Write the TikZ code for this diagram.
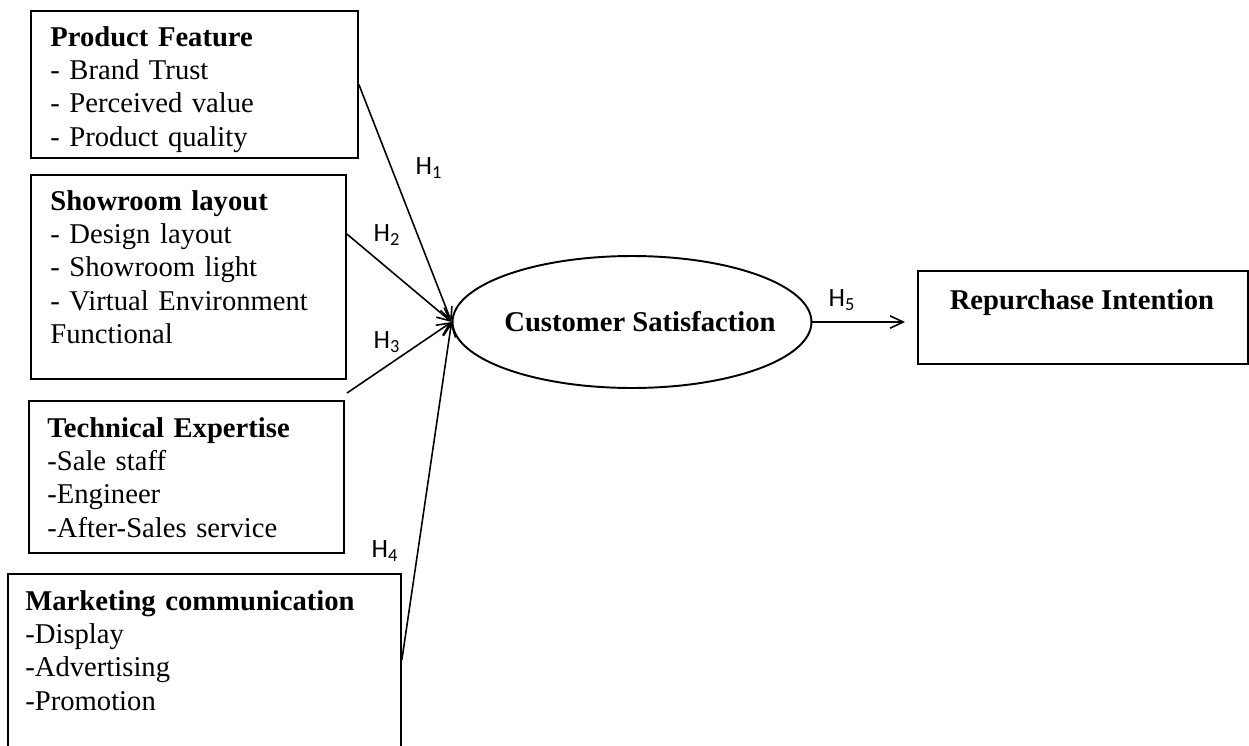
\documentclass[tikz,border=0pt]{standalone}
\usepackage{fontspec}
\setmainfont{Liberation Serif}
\newfontfamily\hypfont{Carlito}
\usetikzlibrary{shapes.geometric,arrows.meta}
\tikzset{%
	factor/.style = {draw, line width=1.1pt, rectangle, anchor=north west, inner sep=0pt},
	items/.style  = {anchor=base west, align=left, inner sep=0pt, text width=8cm,
		font=\fontsize{16.3}{19}\selectfont},
	latent/.style = {draw, line width=1.1pt, ellipse, inner sep=0pt, minimum width=7.18cm,
		minimum height=2.64cm}, % Mediator
	title/.style  = {inner sep=0pt, font=\fontsize{16.3}{19}\selectfont\bfseries},
	hyp/.style    = {font=\fontsize{15}{17}\hypfont, inner sep=0pt}, % Hypothesis label
	link/.style   = {line width=0.9pt, -{Straight Barb[length=7.4pt,width=7pt]}}
}
\begin{document}
\begin{tikzpicture}[x=0.02cm, y=-0.02cm]
	\useasboundingbox (0,0) rectangle (1249,745);
	\clip (0,0) rectangle (1249,745);

	% factor boxes
	\node[factor, minimum width=6.54cm, minimum height=2.94cm] (pf) at (30,10) {};
	\node[factor, minimum width=6.3cm,  minimum height=4.08cm] (sl) at (30,174) {};
	\node[factor, minimum width=6.3cm,  minimum height=3.04cm] (te) at (28,400) {};
	\node[factor, minimum width=7.86cm, minimum height=4.54cm] (mc) at (7,573) {};
	\node[factor, minimum width=6.6cm,  minimum height=1.86cm] (ri) at (917,270) {};

	\node[items] (pfText) at (50,46) {\textbf{Product Feature}\\- Brand Trust\\- Perceived value\\- Product quality};
	\node[items] (slText) at (50,210) {\textbf{Showroom layout}\\- Design layout\\- Showroom light\\- Virtual Environment\\Functional};
	\node[items] (teText) at (47,437) {\textbf{Technical Expertise}\\-Sale staff\\-Engineer\\-After-Sales service};
	\node[items] (mcText) at (25,610) {\textbf{Marketing communication}\\-Display\\-Advertising\\-Promotion};

	\node[latent] (cs) at (632,322) {};
	\node[title] (csText) at (640,322) {Customer Satisfaction};
	\node[title, anchor=base] (riText) at (1082,309) {Repurchase Intention};

	% hypotheses
	\coordinate (h3Start) at (347,393);
	\draw[link] (pf.east) -- (cs.west);
	\draw[link] ([yshift=-1.2cm]sl.north east) -- (cs.west);
	\draw[link] (h3Start) -- (cs.west);
	\draw[link] ([yshift=-1.74cm]mc.north east) -- (cs.west);
	\draw[link] (cs.east) -- ([xshift=-0.24cm]cs.east -| ri.west);

	\node[hyp] (h1) at (429,168) {H\textsubscript{1}};
	\node[hyp] (h2) at (387,235) {H\textsubscript{2}};
	\node[hyp] (h3) at (387,342) {H\textsubscript{3}};
	\node[hyp] (h4) at (385,551) {H\textsubscript{4}};
	\node[hyp] (h5) at (842,300) {H\textsubscript{5}};
\end{tikzpicture}
\end{document}
